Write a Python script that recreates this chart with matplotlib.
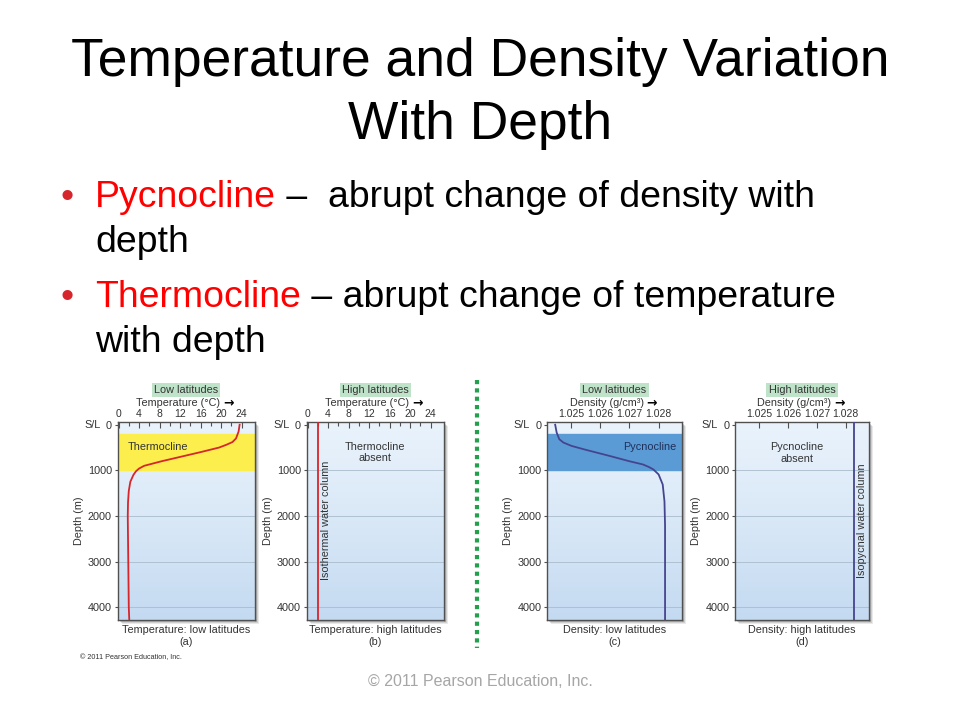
import matplotlib
matplotlib.use("Agg")
import matplotlib.pyplot as plt  # noqa: E402
import numpy as np  # noqa: E402
from matplotlib.colors import LinearSegmentedColormap  # noqa: E402
from matplotlib.lines import Line2D  # noqa: E402
from matplotlib.patches import Rectangle  # noqa: E402

plt.rcParams["font.family"] = ["Liberation Sans", "DejaVu Sans"]

W, H = 960, 720

# --- texts ---
title_lines = ["Temperature and Density Variation", "With Depth"]
bullets = [
    ("Pycnocline", " \u2013  abrupt change of density with", "depth"),
    ("Thermocline", " \u2013 abrupt change of temperature", "with depth"),
]
copyright_txt = "\u00a9 2011 Pearson Education, Inc."

# --- data ---
depth_ticks = [0, 1000, 2000, 3000, 4000]
temp_ticks = [0, 4, 8, 12, 16, 20, 24]
temp_minor = [2, 6, 10, 14, 18, 22]
dens_ticks = [1.025, 1.026, 1.027, 1.028]

# (a) temperature, low latitudes
depth_a = [0, 150, 300, 380, 440, 500, 600, 700, 800, 900, 960, 1020,
           1100, 1250, 1450, 1700, 2000, 3000, 4000, 4300]
temp_a = [23.6, 23.4, 22.9, 22.2, 21.0, 19.6, 16.0, 12.2, 8.4, 5.0, 4.0, 3.4,
          2.9, 2.3, 2.0, 1.85, 1.8, 1.9, 2.0, 2.1]
# (b) temperature, high latitudes (isothermal)
temp_b = 2.0
# (c) density, low latitudes
depth_c = [0, 170, 317, 390, 464, 550, 685, 800, 870, 930, 980, 1090,
           1310, 1680, 2200, 3000, 4300]
dens_c = [1.02446, 1.02451, 1.02460, 1.02474, 1.02502, 1.02551, 1.02633,
          1.02700, 1.02746, 1.02768, 1.02782, 1.02800, 1.02814, 1.02820,
          1.02822, 1.02822, 1.02822]
# (d) density, high latitudes (isopycnal)
dens_d = 1.02827

cline_top, cline_bottom = 200, 1000
depth_lim = (4280, -60)
temp_lim = (-0.2, 26.6)
dens_lim = (1.02418, 1.02880)

RED = "#d7262b"
NAVY = "#45458f"
TXT = "#333333"
PFONT = 7.8
BFONT = 26.9

fig = plt.figure(figsize=(9.6, 7.2), dpi=100)
fig.patch.set_facecolor("white")
renderer = fig.canvas.get_renderer()


def fx(x):
    return x / W


def fy(y):
    return 1 - y / H


# title
fig.text(0.5, fy(62), title_lines[0], ha="center", va="center", fontsize=38.4, color="black")
fig.text(0.5, fy(125), title_lines[1], ha="center", va="center", fontsize=38.4, color="black")

# bullets: red keyword followed by black text on the same baseline
for (word, rest, cont), base in zip(bullets, [207, 307]):
    fig.text(fx(60), fy(base), "\u2022", ha="left", va="baseline", fontsize=BFONT, color=RED)
    t1 = fig.text(fx(95), fy(base), word, ha="left", va="baseline", fontsize=BFONT,
                  color="#ff0000")
    x_end = t1.get_window_extent(renderer).x1
    fig.text(x_end / W, fy(base), rest, ha="left", va="baseline", fontsize=BFONT, color="black")
    fig.text(fx(95), fy(base + 45), cont, ha="left", va="baseline", fontsize=BFONT,
             color="black")

fig.text(0.5, fy(681), copyright_txt, ha="center", va="center", fontsize=11.5, color="#a6a6a6")
fig.text(fx(80), fy(658), copyright_txt, ha="left", va="center", fontsize=5.2, color=TXT)

bg_cmap = LinearSegmentedColormap.from_list("bg", ["#eaf3fc", "#d9e8f7", "#c4daf1"])
grad = np.linspace(0, 1, 256).reshape(-1, 1)


def panel(x0, x1, xlim, ticks, lat, xlabel, bottom_label, letter):
    y0, y1 = 422, 620
    for off, a in [(4, 0.15), (3, 0.22), (2, 0.3)]:
        fig.patches.append(Rectangle((fx(x0 + off), fy(y1 + off)), (x1 - x0) / W, (y1 - y0) / H,
                                     transform=fig.transFigure, facecolor="#707070",
                                     edgecolor="none", alpha=a, zorder=-1))
    ax = fig.add_axes([fx(x0), fy(y1), (x1 - x0) / W, (y1 - y0) / H])
    ax.imshow(grad, extent=(xlim[0], xlim[1], depth_lim[0], depth_lim[1]),
              aspect="auto", cmap=bg_cmap, zorder=0, origin="upper")
    ax.set_xlim(xlim)
    ax.set_ylim(depth_lim)
    for d in depth_ticks[1:]:
        ax.axhline(d, color="#aabbcc", lw=0.6, zorder=1)
    for s in ax.spines.values():
        s.set_color("#505050")
        s.set_linewidth(1.0)
    ax.xaxis.tick_top()
    ax.set_xticks(ticks)
    ax.set_xticklabels([f"{t:g}" for t in ticks])
    ax.tick_params(axis="x", direction="in", length=4, width=0.8, pad=2.5,
                   labelsize=7.5, colors="#505050", labelcolor=TXT)
    ax.set_yticks(depth_ticks)
    ax.set_yticklabels([str(d) for d in depth_ticks])
    ax.tick_params(axis="y", direction="out", length=2.5, width=0.8, pad=1.5,
                   labelsize=PFONT, colors="#505050", labelcolor=TXT)
    ax.annotate("S/L", xy=(0, 0), xycoords=ax.get_yaxis_transform(), xytext=(-17, 0),
                textcoords="offset pixels", ha="right", va="center",
                fontsize=PFONT, color=TXT, annotation_clip=False)
    ax.set_ylabel("Depth (m)", fontsize=PFONT, color=TXT, labelpad=3)
    cx = (x0 + x1) / 2
    fig.text(fx(cx), fy(390), lat, ha="center", va="center", fontsize=PFONT, color=TXT,
             bbox=dict(boxstyle="square,pad=0.2", facecolor="#bfe3c9", edgecolor="none"))
    tl = fig.text(fx(cx - 8), fy(403.5), xlabel, ha="center", va="center",
                  fontsize=PFONT, color=TXT)
    xe = tl.get_window_extent(renderer).x1
    fig.text((xe + 3) / W, fy(403), "\u2192", ha="left", va="center", fontsize=9,
             fontweight="bold", family="DejaVu Sans", color="black")
    fig.text(fx(cx), fy(630), bottom_label, ha="center", va="center", fontsize=PFONT, color=TXT)
    fig.text(fx(cx), fy(642), letter, ha="center", va="center", fontsize=PFONT, color=TXT)
    return ax


# (a)
ax_a = panel(117.5, 255, temp_lim, temp_ticks, "Low latitudes",
             "Temperature (\u00b0C)", "Temperature: low latitudes", "(a)")
ax_a.set_xticks(temp_minor, minor=True)
ax_a.tick_params(axis="x", which="minor", direction="in", length=3, width=0.8, colors="#505050")
ax_a.axhspan(cline_top, cline_bottom, color="#fcee4c", zorder=1.5)
ax_a.plot(temp_a, depth_a, color=RED, lw=1.3, zorder=3)
ax_a.text(7.7, 480, "Thermocline", ha="center", va="center", fontsize=PFONT, color=TXT)

# (b)
ax_b = panel(306.5, 444, temp_lim, temp_ticks, "High latitudes",
             "Temperature (\u00b0C)", "Temperature: high latitudes", "(b)")
ax_b.set_xticks(temp_minor, minor=True)
ax_b.tick_params(axis="x", which="minor", direction="in", length=3, width=0.8, colors="#505050")
ax_b.axvline(temp_b, color=RED, lw=1.3, zorder=3)
ax_b.text(13.2, 600, "Thermocline\nabsent", ha="center", va="center", fontsize=PFONT,
          color=TXT, linespacing=1.15)
ax_b.text(3.6, 2100, "Isothermal water column", rotation=90, ha="center", va="center",
          fontsize=PFONT, color=TXT)

# (c)
ax_c = panel(547, 682, dens_lim, dens_ticks, "Low latitudes",
             "Density (g/cm\u00b3)", "Density: low latitudes", "(c)")
ax_c.axhspan(cline_top, cline_bottom, color="#5b9bd5", zorder=1.5)
ax_c.plot(dens_c, depth_c, color=NAVY, lw=1.3, zorder=3)
ax_c.text(1.02768, 490, "Pycnocline", ha="center", va="center", fontsize=PFONT, color="#1f2f5a")

# (d)
ax_d = panel(735, 869, dens_lim, dens_ticks, "High latitudes",
             "Density (g/cm\u00b3)", "Density: high latitudes", "(d)")
ax_d.axvline(dens_d, color=NAVY, lw=1.3, zorder=3)
ax_d.text(1.02632, 620, "Pycnocline\nabsent", ha="center", va="center", fontsize=PFONT,
          color=TXT, linespacing=1.15)
ax_d.text(1.02856, 2100, "Isopycnal water column", rotation=90, ha="center", va="center",
          fontsize=PFONT, color=TXT)

# dotted separator
fig.add_artist(Line2D([fx(476.5), fx(476.5)], [fy(380), fy(648)], transform=fig.transFigure,
                      color="#22a04b", lw=3, linestyle=(0, (1, 1))))

fig.savefig("out.png", dpi=100)
